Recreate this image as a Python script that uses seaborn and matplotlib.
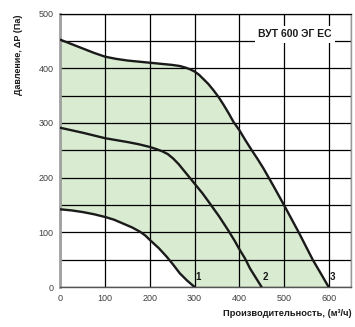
import matplotlib
matplotlib.use("Agg")
import matplotlib.pyplot as plt
import seaborn as sns

# Curve data (flow m3/h, pressure Pa)
x1 = [0, 25, 50, 75, 100, 120, 140, 160, 178, 190, 200, 220, 238, 252, 267, 283, 300]
y1 = [142, 140, 137, 133, 128, 123, 116, 109, 101, 94, 86, 71, 55, 41, 25, 12, 0]

x2 = [0, 50, 100, 150, 175, 200, 215, 228, 240, 252, 264, 275, 288, 301, 318, 334, 355,
      375, 390, 401, 413, 424, 437, 450]
y2 = [291, 282, 272, 265, 261, 256, 252, 248, 243, 235, 225, 214, 201, 188, 171, 153, 129,
      104, 84, 68, 52, 34, 17, 0]

x3 = [0, 25, 50, 75, 100, 125, 150, 175, 200, 225, 250, 267, 280, 290, 300, 310, 320, 331,
      342, 354, 365, 376, 387, 400, 414, 428, 441, 454, 477, 500, 533, 565, 583, 600]
y3 = [452, 444, 436, 428, 421, 417, 414, 412, 410, 408, 406, 404, 401, 398, 394, 388, 380, 371,
      360, 347, 333, 318, 302, 287, 268, 250, 234, 217, 184, 150, 100, 49, 24, 0]

curve_names = ["1", "2", "3"]
title_text = "ВУТ 600 ЭГ ЕС"

sns.set_style("white")
plt.rcParams["font.family"] = ["Liberation Sans", "DejaVu Sans"]

fig = plt.figure(figsize=(3.55, 3.27), dpi=100)
ax = fig.add_axes([0.1704, 0.1223, 0.8183, 0.8364])

# green working area between curve 1 and curve 3
poly_x = list(x3) + list(x1[::-1])
poly_y = list(y3) + list(y1[::-1])
ax.fill(poly_x, poly_y, color="#d9ebd0", lw=0, zorder=0)

ax.set_xlim(0, 650)
ax.set_ylim(0, 500)
ax.set_xticks(range(0, 601, 100))
ax.set_yticks(range(0, 501, 100))
ax.set_yticks(range(50, 500, 100), minor=True)
ax.set_xticks([650], minor=True)
ax.grid(True, which="both", color="black", lw=0.9, zorder=1)
ax.tick_params(axis="y", which="minor", length=0)
ax.tick_params(axis="x", which="minor", length=0)
ax.tick_params(axis="both", which="major", labelsize=6.5, labelcolor="#404040",
               length=3, width=0.6, color="#808080", pad=2)

for xs, ys in [(x1, y1), (x2, y2), (x3, y3)]:
    sns.lineplot(x=xs, y=ys, ax=ax, color="#1a1a1a", lw=1.7, estimator=None,
                 sort=False, zorder=3)

for name, xe in zip(curve_names, [x1[-1], x2[-1], x3[-1]]):
    ax.text(xe + 8, 18, name, fontsize=7, fontweight="bold", color="#1a1a1a",
            ha="center", va="center", zorder=4)

ax.text(525, 462, title_text, fontsize=7.5, fontweight="bold", color="#1a1a1a",
        ha="center", va="center", zorder=4,
        bbox=dict(facecolor="white", edgecolor="none", pad=2.5))

ax.spines["top"].set_color("black")
ax.spines["top"].set_linewidth(0.9)
ax.spines["right"].set_color("#999999")
ax.spines["right"].set_linewidth(1.0)
ax.spines["left"].set_color("#a0a0a0")
ax.spines["left"].set_linewidth(2.0)
ax.spines["bottom"].set_color("#555555")
ax.spines["bottom"].set_linewidth(1.0)

fig.text(352 / 355, 1 - 314 / 327, "Производительность, (м³/ч)", fontsize=6.7,
         fontweight="bold", color="#1a1a1a", ha="right", va="center")
fig.text(19 / 355, 1 - 55 / 327, "Давление, ΔP (Па)", fontsize=6.5,
         fontweight="bold", color="#1a1a1a", ha="center", va="center", rotation=90)

fig.savefig("out.png", dpi=100)
